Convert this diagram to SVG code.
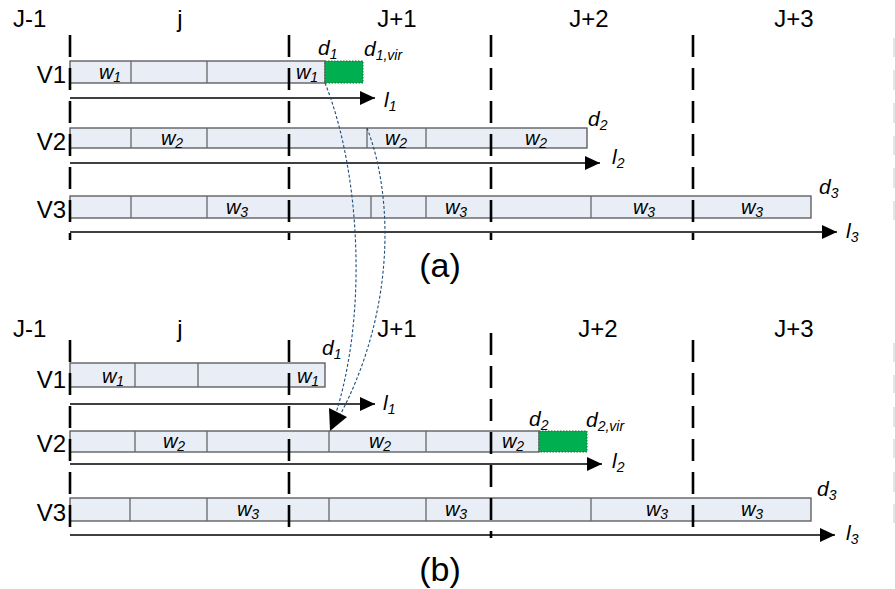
<svg xmlns="http://www.w3.org/2000/svg" width="895" height="589" viewBox="0 0 895 589">
<style>
text{font-family:"Liberation Sans",Arial,sans-serif;fill:#000}
.hd{font-size:24px}
.vl{font-size:24px;text-anchor:end}
.w{font-size:20px;font-style:italic;text-anchor:middle}
.it{font-size:21px;font-style:italic}
.sub{font-size:14px}
.cap{font-size:34px;text-anchor:middle}
.bar{fill:#e9eef6;stroke:#555;stroke-width:1.3}
.div{stroke:#666;stroke-width:1.3}
.dash{stroke:#000;stroke-width:2.6;stroke-dasharray:22 11;fill:none}
.ax{stroke:#000;stroke-width:1.4;fill:none}
.grn{fill:#00b050;stroke:#1e6b30;stroke-width:1;stroke-dasharray:1.5 1.5}
.cur{fill:none;stroke:#1f4e79;stroke-width:1.1;stroke-dasharray:3 2}
.edge{stroke:#ddd;stroke-width:1.5}
</style>
<defs>
<marker id="ah" markerWidth="16" markerHeight="14" refX="15" refY="7" orient="auto" markerUnits="userSpaceOnUse">
<path d="M0,0 L15,7 L0,14 Z" fill="#000"/>
</marker>
</defs>

<!-- ===== (a) ===== -->
<g id="a-headers">
<text class="hd" x="13" y="27">J-1</text>
<text class="hd" x="180" y="27" text-anchor="middle">j</text>
<text class="hd" x="397" y="27" text-anchor="middle">J+1</text>
<text class="hd" x="589" y="27" text-anchor="middle">J+2</text>
<text class="hd" x="794" y="27" text-anchor="middle">J+3</text>
</g>

<g id="a-V1">
<text class="vl" x="66" y="83">V1</text>
<rect class="bar" x="70" y="61" width="255" height="22"/>
<line class="div" x1="131" y1="61" x2="131" y2="83"/>
<line class="div" x1="207" y1="61" x2="207" y2="83"/>
<rect class="grn" x="325" y="61" width="38" height="22"/>
<text class="w" x="110" y="79">w<tspan class="sub" dy="3">1</tspan></text>
<text class="w" x="307" y="79">w<tspan class="sub" dy="3">1</tspan></text>
<text class="it" x="318" y="55">d<tspan class="sub" dy="4">1</tspan></text>
<text class="it" x="364" y="56">d<tspan class="sub" dy="4">1,vir</tspan></text>
</g>

<g id="a-V2">
<text class="vl" x="66" y="150">V2</text>
<rect class="bar" x="70" y="128" width="517" height="20"/>
<line class="div" x1="131" y1="128" x2="131" y2="148"/>
<line class="div" x1="207" y1="128" x2="207" y2="148"/>
<line class="div" x1="367" y1="128" x2="367" y2="148"/>
<line class="div" x1="426" y1="128" x2="426" y2="148"/>
<text class="w" x="172" y="145">w<tspan class="sub" dy="3">2</tspan></text>
<text class="w" x="396" y="145">w<tspan class="sub" dy="3">2</tspan></text>
<text class="w" x="536" y="145">w<tspan class="sub" dy="3">2</tspan></text>
<text class="it" x="588" y="126">d<tspan class="sub" dy="4">2</tspan></text>
</g>

<g id="a-V3">
<text class="vl" x="66" y="218">V3</text>
<rect class="bar" x="70" y="196" width="741" height="22"/>
<line class="div" x1="131" y1="196" x2="131" y2="218"/>
<line class="div" x1="207" y1="196" x2="207" y2="218"/>
<line class="div" x1="371" y1="196" x2="371" y2="218"/>
<line class="div" x1="426" y1="196" x2="426" y2="218"/>
<line class="div" x1="591" y1="196" x2="591" y2="218"/>
<text class="w" x="237" y="214">w<tspan class="sub" dy="3">3</tspan></text>
<text class="w" x="456" y="214">w<tspan class="sub" dy="3">3</tspan></text>
<text class="w" x="644" y="214">w<tspan class="sub" dy="3">3</tspan></text>
<text class="w" x="752" y="214">w<tspan class="sub" dy="3">3</tspan></text>
<text class="it" x="819" y="194">d<tspan class="sub" dy="4">3</tspan></text>
</g>

<g id="a-axes">
<line class="ax" x1="70" y1="98" x2="375" y2="98" marker-end="url(#ah)"/>
<line class="ax" x1="70" y1="163" x2="600" y2="163" marker-end="url(#ah)"/>
<line class="ax" x1="70" y1="232" x2="837" y2="232" marker-end="url(#ah)"/>
<text class="it" x="384" y="107">l<tspan class="sub" dy="4">1</tspan></text>
<text class="it" x="612" y="164">l<tspan class="sub" dy="4">2</tspan></text>
<text class="it" x="846" y="238">l<tspan class="sub" dy="4">3</tspan></text>
</g>

<g id="a-dividers">
<line class="dash" x1="70" y1="35" x2="70" y2="240"/>
<line class="dash" x1="289" y1="35" x2="289" y2="240"/>
<line class="dash" x1="491" y1="35" x2="491" y2="240"/>
<line class="dash" x1="693" y1="35" x2="693" y2="240"/>
</g>

<text id="a-caption" class="cap" x="440" y="277">(a)</text>

<!-- ===== (b) ===== -->
<g id="b-headers">
<text class="hd" x="13" y="337">J-1</text>
<text class="hd" x="180" y="337" text-anchor="middle">j</text>
<text class="hd" x="397" y="337" text-anchor="middle">J+1</text>
<text class="hd" x="598" y="337" text-anchor="middle">J+2</text>
<text class="hd" x="794" y="337" text-anchor="middle">J+3</text>
</g>

<g id="b-V1">
<text class="vl" x="66" y="388">V1</text>
<rect class="bar" x="70" y="363" width="255" height="24"/>
<line class="div" x1="135" y1="363" x2="135" y2="387"/>
<line class="div" x1="198" y1="363" x2="198" y2="387"/>
<text class="w" x="113" y="383">w<tspan class="sub" dy="3">1</tspan></text>
<text class="w" x="308" y="383">w<tspan class="sub" dy="3">1</tspan></text>
<text class="it" x="322" y="355">d<tspan class="sub" dy="4">1</tspan></text>
</g>

<g id="b-V2">
<text class="vl" x="66" y="452">V2</text>
<rect class="bar" x="70" y="431" width="469" height="21"/>
<line class="div" x1="135" y1="431" x2="135" y2="452"/>
<line class="div" x1="207" y1="431" x2="207" y2="452"/>
<line class="div" x1="329" y1="431" x2="329" y2="452"/>
<line class="div" x1="426" y1="431" x2="426" y2="452"/>
<rect class="grn" x="539" y="431" width="48" height="21"/>
<text class="w" x="174" y="448">w<tspan class="sub" dy="3">2</tspan></text>
<text class="w" x="380" y="448">w<tspan class="sub" dy="3">2</tspan></text>
<text class="w" x="513" y="448">w<tspan class="sub" dy="3">2</tspan></text>
<text class="it" x="529" y="426">d<tspan class="sub" dy="4">2</tspan></text>
<text class="it" x="586" y="427">d<tspan class="sub" dy="4">2,vir</tspan></text>
</g>

<g id="b-V3">
<text class="vl" x="66" y="521">V3</text>
<rect class="bar" x="70" y="498" width="741" height="23"/>
<line class="div" x1="130" y1="498" x2="130" y2="521"/>
<line class="div" x1="207" y1="498" x2="207" y2="521"/>
<line class="div" x1="329" y1="498" x2="329" y2="521"/>
<line class="div" x1="426" y1="498" x2="426" y2="521"/>
<line class="div" x1="591" y1="498" x2="591" y2="521"/>
<text class="w" x="248" y="516">w<tspan class="sub" dy="3">3</tspan></text>
<text class="w" x="456" y="516">w<tspan class="sub" dy="3">3</tspan></text>
<text class="w" x="657" y="516">w<tspan class="sub" dy="3">3</tspan></text>
<text class="w" x="752" y="516">w<tspan class="sub" dy="3">3</tspan></text>
<text class="it" x="817" y="496">d<tspan class="sub" dy="4">3</tspan></text>
</g>

<g id="b-axes">
<line class="ax" x1="70" y1="404" x2="375" y2="404" marker-end="url(#ah)"/>
<line class="ax" x1="70" y1="464" x2="602" y2="464" marker-end="url(#ah)"/>
<line class="ax" x1="70" y1="535" x2="835" y2="535" marker-end="url(#ah)"/>
<text class="it" x="383" y="410">l<tspan class="sub" dy="4">1</tspan></text>
<text class="it" x="612" y="468">l<tspan class="sub" dy="4">2</tspan></text>
<text class="it" x="846" y="540">l<tspan class="sub" dy="4">3</tspan></text>
</g>

<g id="b-dividers">
<line class="dash" x1="70" y1="340" x2="70" y2="538"/>
<line class="dash" x1="289" y1="340" x2="289" y2="538"/>
<line class="dash" x1="491" y1="333" x2="491" y2="538"/>
<line class="dash" x1="693" y1="340" x2="693" y2="538"/>
</g>

<text id="b-caption" class="cap" x="440" y="581">(b)</text>

<!-- ===== connectors ===== -->
<g id="connectors">
<path class="cur" d="M325,83 C360,170 370,320 331,428"/>
<path class="cur" d="M367,128 C395,200 395,320 333,428"/>
<polygon points="329,408 347,417 330,431" fill="#000"/>
</g>

<!-- faint right edge marks -->
<g id="edge-marks">
<line class="edge" x1="894" y1="38" x2="894" y2="57"/>
<line class="edge" x1="894" y1="70" x2="894" y2="90"/>
<line class="edge" x1="894" y1="103" x2="894" y2="123"/>
<line class="edge" x1="894" y1="136" x2="894" y2="155"/>
<line class="edge" x1="894" y1="168" x2="894" y2="188"/>
<line class="edge" x1="894" y1="201" x2="894" y2="220"/>
<line class="edge" x1="894" y1="343" x2="894" y2="362"/>
<line class="edge" x1="894" y1="375" x2="894" y2="393"/>
<line class="edge" x1="894" y1="407" x2="894" y2="427"/>
<line class="edge" x1="894" y1="439" x2="894" y2="458"/>
<line class="edge" x1="894" y1="472" x2="894" y2="492"/>
<line class="edge" x1="894" y1="504" x2="894" y2="523"/>
</g>
</svg>
